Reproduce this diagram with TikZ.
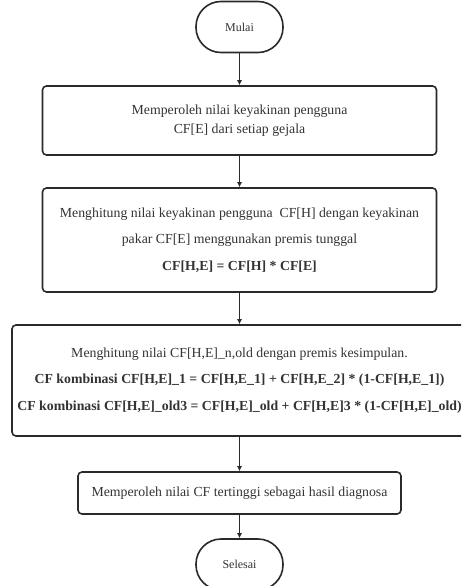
\documentclass[tikz,border=0pt]{standalone}
\usepackage{fontspec}
\setmainfont{Liberation Serif}
\usetikzlibrary{arrows.meta}
\definecolor{ink}{HTML}{2A2A2A}
\definecolor{txt}{HTML}{333333}
\tikzset{
  boxstyle/.style={draw=ink, line width=1.6pt, rounded corners=4pt, align=center, text=txt, inner sep=1pt},
  termstyle/.style={draw=ink, line width=1.6pt, rounded corners=25pt, align=center, text=txt,
    minimum width=87pt, minimum height=51pt, inner sep=0pt, font=\fontsize{12}{14}\selectfont},
  arr/.style={draw=ink, line width=0.8pt, -{Latex[length=5pt,width=5pt]}}
}
\begin{document}
\begin{tikzpicture}[x=1pt,y=-1pt]
\clip (0,0) rectangle (461,586);
\fill[white] (0,0) rectangle (461,586);
\node[termstyle] (mulai) at (239.5,27) {Mulai};
\node[boxstyle, minimum width=394pt, minimum height=69pt, font=\fontsize{13.8}{19}\selectfont] (b1) at (239.5,120.5)
  {Memperoleh nilai keyakinan pengguna\\CF[E] dari setiap gejala};
\node[boxstyle, minimum width=394pt, minimum height=104pt, font=\fontsize{13.8}{26.5}\selectfont] (b2) at (239.5,240)
  {Menghitung nilai keyakinan pengguna\ \ CF[H] dengan keyakinan\\pakar CF[E] menggunakan premis tunggal\\\textbf{CF[H,E] = CF[H] * CF[E]}};
\node[boxstyle, minimum width=455pt, minimum height=111pt, font=\fontsize{13.8}{26.5}\selectfont] (b3) at (239.5,380.5)
  {Menghitung nilai CF[H,E]\_n,old dengan premis kesimpulan.\\\textbf{CF kombinasi CF[H,E]\_1 = CF[H,E\_1] + CF[H,E\_2] * (1-CF[H,E\_1])}\\\textbf{CF kombinasi CF[H,E]\_old3 = CF[H,E]\_old + CF[H,E]3 * (1-CF[H,E]\_old)}};
\node[boxstyle, minimum width=323pt, minimum height=42pt, font=\fontsize{13.8}{19}\selectfont] (b4) at (239.5,493)
  {Memperoleh nilai CF tertinggi sebagai hasil diagnosa};
\node[termstyle] (selesai) at (239.5,564.5) {Selesai};
\draw[arr] (mulai) -- (b1);
\draw[arr] (b1) -- (b2);
\draw[arr] (b2) -- (b3);
\draw[arr] (b3) -- (b4);
\draw[arr] (b4) -- (selesai);
\end{tikzpicture}
\end{document}
